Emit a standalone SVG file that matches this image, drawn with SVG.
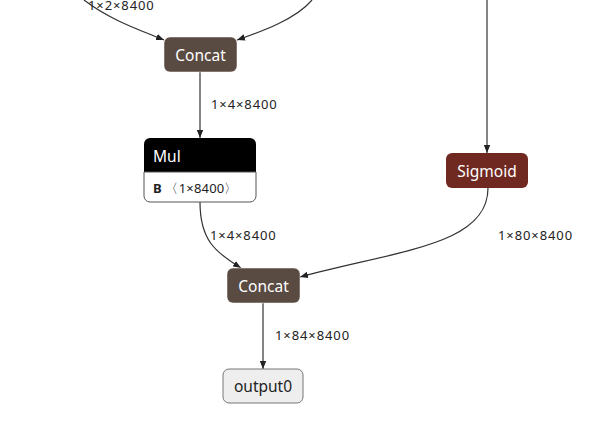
<svg xmlns="http://www.w3.org/2000/svg" width="590" height="431" viewBox="0 0 590 431">
<style>
.edge{fill:none;stroke:#333;stroke-width:1.2}
.lbl{font-family:"Noto Sans","Open Sans",sans-serif;font-size:13px;letter-spacing:0.9px;fill:#222}
.ntext{font-family:"Noto Sans","Open Sans",sans-serif;font-size:15.5px;fill:#fff}
.tensor{fill:rgb(89,74,66);stroke:#fff;stroke-width:0.5}
.act{fill:rgb(112,41,33)}
</style>
<defs>
<marker id="arr" viewBox="0 0 10 10" refX="10" refY="5" markerWidth="8" markerHeight="8" markerUnits="userSpaceOnUse" orient="auto">
<path d="M0,1 L10,5 L0,9 z" fill="#222"/>
</marker>
</defs>
<rect width="590" height="431" fill="#fff"/>
<g id="connectors">
<path class="edge" d="M84,0 C110,20 140,30 164,40" marker-end="url(#arr)"/>
<path class="edge" d="M312,0 C295,20 260,32 237,40" marker-end="url(#arr)"/>
<path class="edge" d="M200,72 L200,138" marker-end="url(#arr)"/>
<path class="edge" d="M487,0 L487,153" marker-end="url(#arr)"/>
<path class="edge" d="M200,202 C200,240 215,252 241,268" marker-end="url(#arr)"/>
<path class="edge" d="M488,188 C488,245 400,250 300,277" marker-end="url(#arr)"/>
<path class="edge" d="M263,303 L263,369" marker-end="url(#arr)"/>
<text class="lbl" x="88" y="10">1×2×8400</text>
<text class="lbl" x="211" y="109">1×4×8400</text>
<text class="lbl" x="210" y="240">1×4×8400</text>
<text class="lbl" x="498" y="240">1×80×8400</text>
<text class="lbl" x="275" y="340">1×84×8400</text>
</g>
<g id="concat1">
<rect class="tensor" x="164" y="37" width="73" height="35" rx="6"/>
<text class="ntext" x="200.5" y="60.5" text-anchor="middle">Concat</text>
</g>
<g id="mul">
<path d="M150,138 H250 A6,6 0 0 1 256,144 V172 H144 V144 A6,6 0 0 1 150,138 Z" fill="#000"/>
<path d="M144,172 H256 V196 A6,6 0 0 1 250,202 H150 A6,6 0 0 1 144,196 Z" fill="#fff" stroke="#555" stroke-width="1"/>
<text class="ntext" x="153" y="161.5">Mul</text>
<text class="lbl" x="153" y="192.5" style="letter-spacing:0.2px"><tspan font-weight="bold">B</tspan> 〈1×8400〉</text>
</g>
<g id="sigmoid">
<rect class="act" x="446" y="153" width="82" height="35" rx="6"/>
<text class="ntext" x="487" y="176.5" text-anchor="middle">Sigmoid</text>
</g>
<g id="concat2">
<rect class="tensor" x="227" y="268" width="73" height="35" rx="6"/>
<text class="ntext" x="263.5" y="291.5" text-anchor="middle">Concat</text>
</g>
<g id="output0">
<rect x="223" y="369" width="80" height="34" rx="6" fill="#eee" stroke="#777" stroke-width="1"/>
<text class="ntext" x="263" y="391.5" text-anchor="middle" style="fill:#222">output0</text>
</g>
</svg>
